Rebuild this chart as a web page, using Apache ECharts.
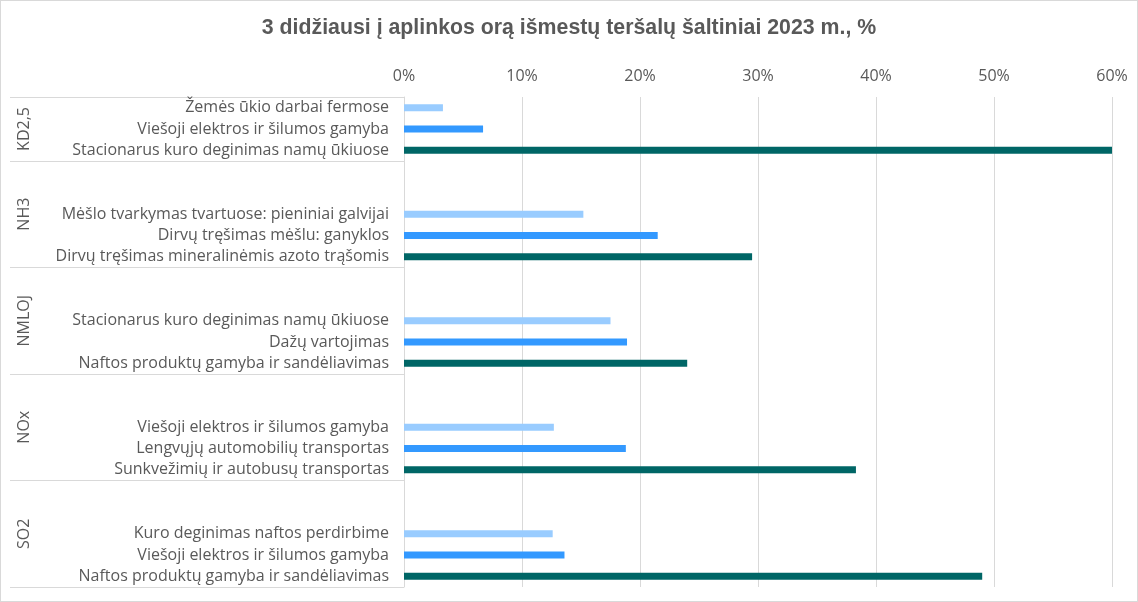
<!DOCTYPE html>
<html>
<head>
<meta charset="utf-8">
<script src="https://cdn.jsdelivr.net/npm/echarts@6/dist/echarts.min.js"></script>
<style>
  html, body { margin: 0; padding: 0; background: #fff; }
  #chart { width: 1136px; height: 600px; border: 1px solid #D9D9D9; }
</style>
</head>
<body>
<div id="chart"></div>
<script>
// teršalai (grupės)
var groups = ['KD2,5', 'NH3', 'NMLOJ', 'NOx', 'SO2'];
// šaltiniai kiekvienoje grupėje
var sourcesKD = ['Žemės ūkio darbai fermose', 'Viešoji elektros ir šilumos gamyba', 'Stacionarus kuro deginimas namų ūkiuose'];
var sourcesNH3 = ['Mėšlo tvarkymas tvartuose: pieniniai galvijai', 'Dirvų tręšimas mėšlu: ganyklos', 'Dirvų tręšimas mineralinėmis azoto trąšomis'];
var sourcesNMLOJ = ['Stacionarus kuro deginimas namų ūkiuose', 'Dažų vartojimas', 'Naftos produktų gamyba ir sandėliavimas'];
var sourcesNOx = ['Viešoji elektros ir šilumos gamyba', 'Lengvųjų automobilių transportas', 'Sunkvežimių ir autobusų transportas'];
var sourcesSO2 = ['Kuro deginimas naftos perdirbime', 'Viešoji elektros ir šilumos gamyba', 'Naftos produktų gamyba ir sandėliavimas'];
// reikšmės, %
var valuesKD = [3.3, 6.7, 60];
var valuesNH3 = [15.2, 21.5, 29.5];
var valuesNMLOJ = [17.5, 18.9, 24.0];
var valuesNOx = [12.7, 18.8, 38.3];
var valuesSO2 = [12.6, 13.6, 49.0];

var colors = ['#99CCFF', '#3399FF', '#006666'];
var textColor = '#595959';
var gridColor = '#D9D9D9';
var fontFam = '"Open Sans", "Noto Sans", sans-serif';
var titleFont = '"Liberation Sans", Arial, sans-serif';

var allSources = [sourcesKD, sourcesNH3, sourcesNMLOJ, sourcesNOx, sourcesSO2];
var allValues = [valuesKD, valuesNH3, valuesNMLOJ, valuesNOx, valuesSO2];

// kategorijos su tuščiais tarpais tarp grupių
var categories = [];
var barData = [];
var bounds = [0];
var centers = [];
for (var g = 0; g < groups.length; g++) {
    var start = categories.length;
    if (g > 0) {
        categories.push('', '');
        barData.push('-', '-');
    }
    for (var i = 0; i < allSources[g].length; i++) {
        categories.push(allSources[g][i]);
        barData.push({ value: allValues[g][i], itemStyle: { color: colors[i] } });
    }
    bounds.push(categories.length);
    centers.push((start + categories.length) / 2);
}

var chart = echarts.init(document.getElementById('chart'));
var option = {
    animation: false,
    title: {
        text: '3 didžiausi į aplinkos orą išmestų teršalų šaltiniai 2023 m., %',
        left: 'center',
        top: 12,
        textStyle: { color: textColor, fontFamily: titleFont, fontSize: 21.3, fontWeight: 'bold' }
    },
    grid: { left: 403, right: 25, top: 96, bottom: 14 },
    xAxis: {
        type: 'value',
        position: 'top',
        min: 0,
        max: 60,
        interval: 10,
        axisLine: { show: false },
        axisTick: { show: false },
        splitLine: { lineStyle: { color: gridColor, width: 1 } },
        axisLabel: {
            formatter: '{value}%',
            color: textColor,
            fontFamily: fontFam,
            fontSize: 16,
            margin: 13
        }
    },
    yAxis: [{
        type: 'category',
        inverse: true,
        data: categories,
        axisLine: { lineStyle: { color: gridColor } },
        axisTick: { show: false },
        axisLabel: {
            color: textColor,
            fontFamily: fontFam,
            fontSize: 16,
            margin: 15,
            interval: 0
        }
    }, {
        type: 'value',
        inverse: true,
        min: 0,
        max: categories.length,
        position: 'left',
        axisLine: { show: false },
        splitLine: { show: false },
        axisTick: {
            show: true,
            customValues: bounds,
            length: 394,
            lineStyle: { color: gridColor }
        },
        axisLabel: {
            customValues: centers,
            formatter: function (v) {
                return groups[centers.indexOf(v)];
            },
            rotate: 90,
            margin: 372,
            color: textColor,
            fontFamily: fontFam,
            fontSize: 16
        }
    }],
    series: [{
        type: 'bar',
        yAxisIndex: 0,
        barWidth: 7,
        data: barData
    }]
};
chart.setOption(option);
</script>
</body>
</html>
